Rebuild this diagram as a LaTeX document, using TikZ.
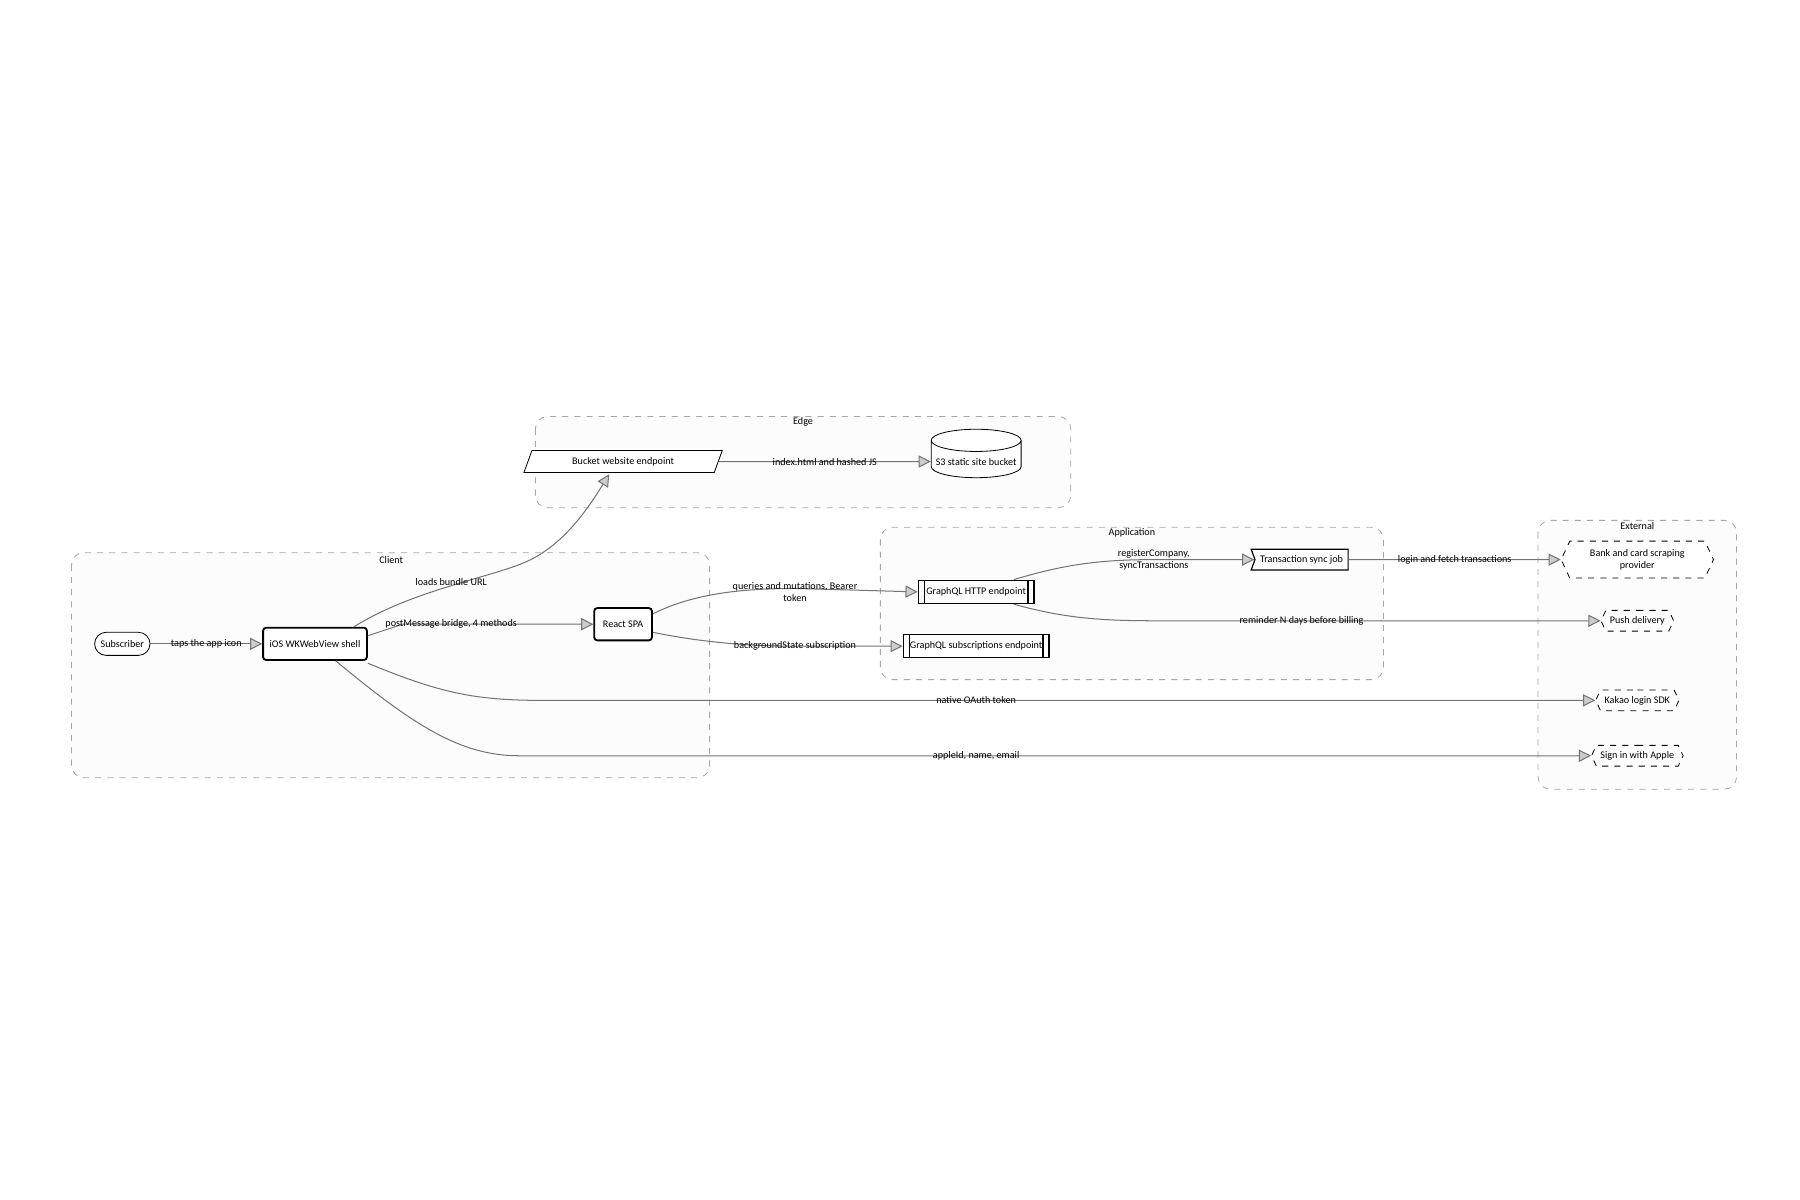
\documentclass[tikz,border=0pt]{standalone}
\usepackage{fontspec}
\setmainfont{Carlito}
\usetikzlibrary{shapes.geometric,shapes.symbols,arrows.meta}
\begin{document}
\begin{tikzpicture}[x=0.02cm,y=-0.02cm,
  font=\fontsize{5}{6}\selectfont,
  cluster/.style={draw=black!35,dashed,rounded corners=6pt,fill=black!1},
  ctitle/.style={inner sep=0pt},
  box/.style={draw,fill=white,minimum height=0.4cm,inner sep=2pt},
  main/.style={box,line width=0.9pt,rounded corners=1.5pt},
  sub/.style={box,line width=0.8pt,path picture={
      \draw ([xshift=3pt]path picture bounding box.north west)--([xshift=3pt]path picture bounding box.south west);
      \draw ([xshift=-3pt]path picture bounding box.north east)--([xshift=-3pt]path picture bounding box.south east);}},
  ext/.style={draw,dashed,fill=white,signal,signal to=east and west,signal pointer angle=130,minimum height=0.36cm,inner sep=2pt},
  arr/.style={draw=black!55,line width=0.5pt,-{Triangle[open,fill=black!20,length=6pt,width=6pt]},draw=black!55},
  lab/.style={inner sep=1pt,align=center}
]
\useasboundingbox (0,0) rectangle (1560,1040);
% clusters
\draw[cluster] (464,361) rectangle (928,440);
\node[ctitle] (tEdge) at (696,366) {Edge};
\draw[cluster] (62,479) rectangle (615,674);
\node[ctitle] (tClient) at (339,485) {Client};
\draw[cluster] (763,457) rectangle (1199,589);
\node[ctitle] (tApp) at (981,462) {Application};
\draw[cluster] (1333,451) rectangle (1505,684);
\node[ctitle] (tExt) at (1419,456) {External};
% nodes
\node[box,rounded corners=0.2cm,minimum width=0.96cm] (sub) at (106,558) {Subscriber};
\node[main,minimum width=1.8cm,minimum height=0.56cm] (ios) at (273,558) {iOS WKWebView shell};
\node[main,minimum width=1.0cm,minimum height=0.56cm] (spa) at (540,541) {React SPA};
\node[box,trapezium,trapezium left angle=70,trapezium right angle=110,minimum width=2.1cm,minimum height=0.38cm,inner sep=1pt] (bwe) at (540,400) {Bucket website endpoint};
\node[box,cylinder,shape border rotate=90,aspect=0.25,minimum width=1.56cm,minimum height=0.84cm] (s3) at (846,400) {S3 static site bucket};
\node[sub,minimum width=2.0cm] (gh) at (846,513) {GraphQL HTTP endpoint};
\node[sub,minimum width=2.52cm] (gs) at (846,560) {GraphQL subscriptions endpoint};
\node[box,line width=0.6pt,signal,signal from=west,signal to=nowhere,signal pointer angle=140,minimum width=1.68cm,minimum height=0.36cm] (txn) at (1128,485) {Transaction sync job};
\node[ext,minimum width=2.64cm,minimum height=0.64cm,align=center] (bank) at (1419,485) {Bank and card scraping\\provider};
\node[ext,minimum width=1.2cm] (push) at (1419,538) {Push delivery};
\node[ext,minimum width=1.44cm] (kakao) at (1419,607) {Kakao login SDK};
\node[ext,minimum width=1.56cm] (apple) at (1419,655) {Sign in with Apple};
% edges
\draw[arr] (sub) -- node[lab] {taps the app icon} (ios);
\draw[arr] (ios.north east) ++(-12,0) coordinate (i1) .. controls (360,510) and (430,500) .. (460,485) .. controls (490,470) and (510,440) .. (528,411);
\node[lab] (l1) at (391,504) {loads bundle URL};
\draw[arr] (ios.east) ++(0,-7) -- ++(30,-10) coordinate (i2) -- (spa.west);
\node[lab] (l2) at (391,541) {postMessage bridge, 4 methods};
\draw[arr] (bwe) -- node[lab] {index.html and hashed JS} (s3);
\draw[arr] (spa.east) ++(0,-9) .. controls (600,515) and (640,510) .. (690,510) -- (gh.west);
\node[lab] (l3) at (689,513) {queries and mutations, Bearer\\token};
\draw[arr] (spa.east) ++(0,7) .. controls (600,555) and (640,560) .. (690,560) -- (gs.west);
\node[lab] (l4) at (689,560) {backgroundState subscription};
\draw[arr] (gh.north east) ++(-18,0) .. controls (920,490) and (950,485) .. (1000,485) -- (txn.west);
\node[lab] (l5) at (1000,485) {registerCompany,\\syncTransactions};
\draw[arr] (gh.south east) ++(-18,0) .. controls (920,535) and (950,538) .. (1000,538) -- (push.west);
\node[lab] (l6) at (1128,538) {reminder N days before billing};
\draw[arr] (txn) -- node[lab] {login and fetch transactions} (bank);
\draw[arr] (ios.south east) ++(0,2) .. controls (380,600) and (410,607) .. (470,607) -- (kakao.west);
\node[lab] (l7) at (846,607) {native OAuth token};
\draw[arr] (ios.south) ++(18,0) .. controls (360,630) and (400,655) .. (450,655) -- (apple.west);
\node[lab] (l8) at (846,655) {appleId, name, email};
\end{tikzpicture}
\end{document}
